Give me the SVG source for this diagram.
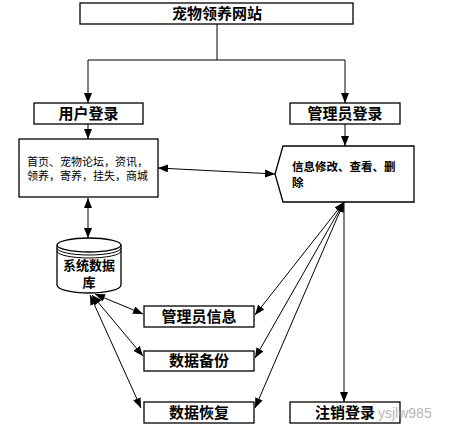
<svg xmlns="http://www.w3.org/2000/svg" width="449" height="429" viewBox="0 0 449 429">
<defs>
<marker id="ah" viewBox="0 0 10 8" refX="10" refY="4" markerWidth="10" markerHeight="8" markerUnits="userSpaceOnUse" orient="auto-start-reverse">
<path d="M0,0 L10,4 L0,8 Z" fill="#000"/>
</marker>
<style>
.box{fill:#fff;stroke:#000;stroke-width:1.3}
.t{font-family:"Liberation Sans","Noto Sans CJK SC",sans-serif;font-weight:bold;font-size:15px;fill:#000;text-anchor:middle}
.s{font-family:"Liberation Sans","Noto Sans CJK SC",sans-serif;font-size:11px;fill:#000}
.sb{font-family:"Liberation Sans","Noto Sans CJK SC",sans-serif;font-size:11.5px;font-weight:bold;fill:#000}
.c{fill:none;stroke:#000;stroke-width:1}
</style>
</defs>
<rect width="449" height="429" fill="#fff"/>
<g id="connectors">
<path class="c" d="M217,24 V60 M88,60 H345"/>
<path class="c" d="M88,60 V103" marker-end="url(#ah)"/>
<path class="c" d="M345,60 V103" marker-end="url(#ah)"/>
<path class="c" d="M88,124 V139" marker-end="url(#ah)"/>
<path class="c" d="M345,124 V146" marker-end="url(#ah)"/>
<path class="c" d="M158,168 L275,174" marker-start="url(#ah)" marker-end="url(#ah)"/>
<path class="c" d="M88,198 V238" marker-start="url(#ah)" marker-end="url(#ah)"/>
<path class="c" d="M344,202 V402" marker-end="url(#ah)"/>
<path class="c" d="M344,202 L255,315" marker-start="url(#ah)" marker-end="url(#ah)"/>
<path class="c" d="M344,202 L255,358" marker-start="url(#ah)" marker-end="url(#ah)"/>
<path class="c" d="M344,202 L255,408" marker-start="url(#ah)" marker-end="url(#ah)"/>
<path class="c" d="M95,294 L143,314" marker-start="url(#ah)" marker-end="url(#ah)"/>
<path class="c" d="M92,295 L143,356" marker-start="url(#ah)" marker-end="url(#ah)"/>
<path class="c" d="M90,295 L141,408" marker-start="url(#ah)" marker-end="url(#ah)"/>
</g>
<g id="site">
<rect class="box" x="80" y="3" width="273" height="21"/>
<text class="t" x="217" y="19">宠物领养网站</text>
</g>
<g id="user-login">
<rect class="box" x="34" y="103" width="109" height="21"/>
<text class="t" x="88.5" y="119">用户登录</text>
</g>
<g id="admin-login">
<rect class="box" x="290" y="103" width="110" height="21"/>
<text class="t" x="345" y="119">管理员登录</text>
</g>
<g id="user-functions">
<rect class="box" x="19" y="139" width="139" height="58"/>
<text class="s" x="27" y="166">首页、宠物论坛，资讯，</text>
<text class="s" x="27" y="180">领养，寄养，挂失，商城</text>
</g>
<g id="admin-functions">
<polygon class="box" points="283,146 414,146 414,202 283,202 275,174"/>
<text class="sb" x="292" y="171">信息修改、查看、删</text>
<text class="sb" x="292" y="187">除</text>
</g>
<g id="database">
<path class="box" d="M57,245 V285 A32,8 0 0 0 121,285 V245"/>
<ellipse class="box" cx="89" cy="245" rx="32" ry="7"/>
<path class="c" d="M57,248 A32,7 0 0 0 121,248 M57,251 A32,7 0 0 0 121,251"/>
<text class="t" x="89" y="270" style="font-size:13px">系统数据</text>
<text class="t" x="89" y="287" style="font-size:13px">库</text>
</g>
<g id="admin-info">
<rect class="box" x="144" y="306" width="110" height="21"/>
<text class="t" x="199" y="322">管理员信息</text>
</g>
<g id="backup">
<rect class="box" x="144" y="351" width="110" height="20"/>
<text class="t" x="199" y="366">数据备份</text>
</g>
<g id="restore">
<rect class="box" x="144" y="402" width="110" height="21"/>
<text class="t" x="199" y="418">数据恢复</text>
</g>
<g id="logout">
<rect class="box" x="290" y="402" width="110" height="21"/>
<text class="t" x="345" y="418">注销登录</text>
</g>
<text x="378" y="418" style="font-family:'Liberation Sans',sans-serif;font-size:14px;fill:#999;opacity:0.7">ysjlw985</text>
</svg>
